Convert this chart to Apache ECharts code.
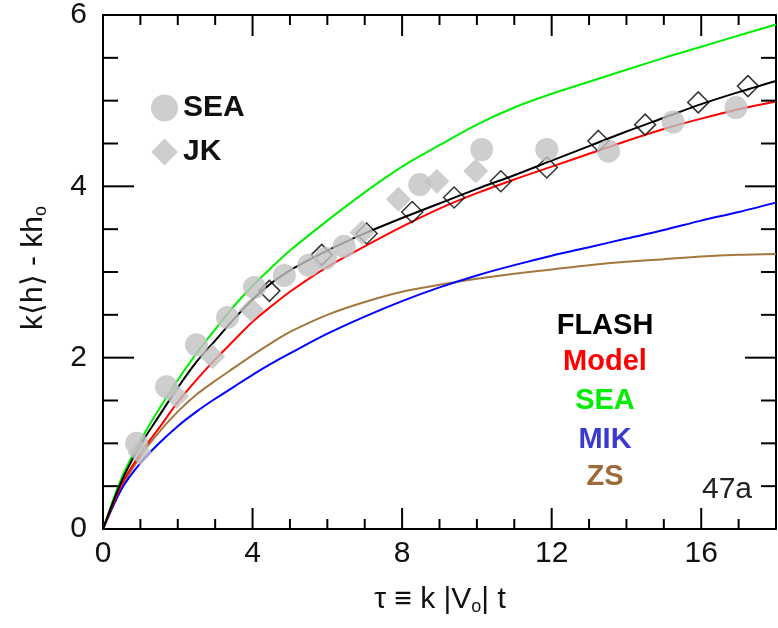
<!DOCTYPE html>
<html>
<head>
<meta charset="utf-8">
<script src="https://cdn.jsdelivr.net/npm/echarts@6/dist/echarts.min.js"></script>
<style>
html,body{margin:0;padding:0;background:#fff;}
#chart{width:778px;height:628px;}
</style>
</head>
<body>
<div id="chart"></div>
<script>
// ---- data ----
const CURVE_X = [0, 0.5, 1, 1.5, 2, 2.5, 3, 3.5, 4, 4.5, 5, 6, 7, 8, 9, 10, 11, 12, 13, 14, 15, 16, 17, 18];
const FLASH_Y = [0, 0.56, 0.98, 1.32, 1.65, 1.95, 2.2, 2.45, 2.68, 2.87, 3.02, 3.25, 3.45, 3.63, 3.8, 3.97, 4.13, 4.3, 4.47, 4.64, 4.8, 4.96, 5.1, 5.23];
const MODEL_Y = [0, 0.52, 0.88, 1.18, 1.48, 1.74, 1.98, 2.2, 2.42, 2.6, 2.77, 3.06, 3.3, 3.53, 3.74, 3.92, 4.08, 4.23, 4.38, 4.53, 4.67, 4.79, 4.9, 4.99];
const SEA_Y   = [0, 0.6, 1.03, 1.4, 1.74, 2.05, 2.33, 2.6, 2.84, 3.05, 3.25, 3.6, 3.93, 4.23, 4.48, 4.72, 4.92, 5.08, 5.22, 5.36, 5.5, 5.63, 5.76, 5.89];
const MIK_Y   = [0, 0.47, 0.77, 1.0, 1.2, 1.37, 1.52, 1.66, 1.8, 1.93, 2.05, 2.28, 2.48, 2.66, 2.82, 2.96, 3.08, 3.19, 3.29, 3.39, 3.49, 3.6, 3.7, 3.81];
const ZS_Y    = [0, 0.48, 0.85, 1.13, 1.37, 1.57, 1.73, 1.88, 2.03, 2.17, 2.3, 2.5, 2.65, 2.77, 2.85, 2.92, 2.98, 3.03, 3.08, 3.12, 3.15, 3.18, 3.2, 3.21];

const FLASH_MK_X = [4.45, 5.85, 7.05, 8.27, 9.39, 10.64, 11.87, 13.25, 14.5, 15.92, 17.25];
const FLASH_MK_Y = [2.78, 3.2, 3.45, 3.70, 3.87, 4.06, 4.22, 4.53, 4.72, 4.98, 5.17];

const SEA_PTS_X = [0.9, 1.7, 2.5, 3.33, 4.05, 4.85, 5.5, 5.95, 6.45, 8.47, 10.13, 11.87, 13.52, 15.25, 16.93];
const SEA_PTS_Y = [1.0, 1.66, 2.15, 2.47, 2.82, 2.96, 3.08, 3.16, 3.3, 4.02, 4.43, 4.43, 4.41, 4.75, 4.92];

const JK_X = [0.99, 1.97, 2.93, 3.97, 6.93, 7.9, 8.93, 9.97];
const JK_Y = [0.89, 1.55, 2.01, 2.56, 3.46, 3.85, 4.06, 4.18];

// axis ranges and tick values
const X_MIN = 0, X_MAX = 18, X_MAJOR = 4;
const Y_MIN = 0, Y_MAX = 6, Y_MAJOR = 2;
const X_TICKS = [1, 2, 3, 4, 5, 6, 7, 8, 9, 10, 11, 12, 13, 14, 15, 16, 17];
const Y_TICKS = [0.5, 1, 1.5, 2, 2.5, 3, 3.5, 4, 4.5, 5, 5.5];

const CURVE_NAMES = ['FLASH', 'Model', 'SEA', 'MIK', 'ZS'];
const CURVE_COLORS = ['#000000', '#ff0000', '#00ee00', '#0000ff', '#a5773f'];
const TEXT_COLORS = ['#000000', '#ff0000', '#00ee00', '#3a3ad0', '#9c6a3a'];
const LEGEND_Y = [326, 362, 401, 440, 477];
const X_TITLE = '{a|τ ≡ k |V}{s|o}{a|| t}';
const Y_TITLE = '{a|k⟨h⟩ - kh}{s|o}';

const zip = (xs, ys) => xs.map((x, i) => [x, ys[i]]);
const isMul = (v, m) => Math.abs(v / m - Math.round(v / m)) < 1e-9;

const FONT = "'Liberation Sans', Arial, Helvetica, sans-serif";
const chart = echarts.init(document.getElementById('chart'));

function lineSt() { return {color: '#000', width: 2}; }

function xAx(pos, showLabels) {
  return {
    type: 'value', min: X_MIN, max: X_MAX, interval: X_MAJOR, position: pos,
    axisLine: {show: true, onZero: false, lineStyle: lineSt()},
    axisTick: {show: false},
    axisLabel: {show: showLabels, fontSize: 30, color: '#111', fontFamily: FONT, margin: 10, showMaxLabel: false},
    splitLine: {show: false}
  };
}
function yAx(pos, showLabels) {
  return {
    type: 'value', min: Y_MIN, max: Y_MAX, interval: Y_MAJOR, position: pos,
    axisLine: {show: true, onZero: false, lineStyle: lineSt()},
    axisTick: {show: false},
    axisLabel: {show: showLabels, fontSize: 30, color: '#111', fontFamily: FONT, margin: 16},
    splitLine: {show: false}
  };
}

const curveYs = [FLASH_Y, MODEL_Y, SEA_Y, MIK_Y, ZS_Y];
const lineSeries = curveYs.map((ys, i) => ({
  name: CURVE_NAMES[i] + ' curve',
  type: 'line',
  data: zip(CURVE_X, ys),
  smooth: 0.3,
  symbol: 'none',
  lineStyle: {color: CURVE_COLORS[i], width: 2},
  z: i === 0 ? 4 : 3
})).reverse();

// inward ticks drawn through the axes' scales (api.coord)
const xTickSeries = {
  name: 'x ticks', type: 'custom', clip: false, silent: true, z: 8,
  data: X_TICKS.map(v => [v, Y_MIN, isMul(v, X_MAJOR) ? 21 : 10]),
  renderItem: function (params, api) {
    const v = api.value(0), len = api.value(2);
    const b = api.coord([v, Y_MIN]);
    const t = api.coord([v, Y_MAX]);
    return {type: 'group', children: [
      {type: 'rect', shape: {x: b[0] - 1, y: b[1] - len, width: 2, height: len}, style: {fill: '#000'}},
      {type: 'rect', shape: {x: t[0] - 1, y: t[1], width: 2, height: len}, style: {fill: '#000'}}
    ]};
  }
};
const yTickSeries = {
  name: 'y ticks', type: 'custom', clip: false, silent: true, z: 8,
  data: Y_TICKS.map(v => [X_MIN, v, isMul(v, Y_MAJOR) ? 31 : 15]),
  renderItem: function (params, api) {
    const v = api.value(1), len = api.value(2);
    const l = api.coord([X_MIN, v]);
    const r = api.coord([X_MAX, v]);
    return {type: 'group', children: [
      {type: 'rect', shape: {x: l[0], y: l[1] - 1, width: len, height: 2}, style: {fill: '#000'}},
      {type: 'rect', shape: {x: r[0] - len, y: r[1] - 1, width: len, height: 2}, style: {fill: '#000'}}
    ]};
  }
};

const series = lineSeries.concat([
  {
    name: 'FLASH markers', type: 'scatter', data: zip(FLASH_MK_X, FLASH_MK_Y),
    symbol: 'diamond', symbolSize: 21,
    itemStyle: {color: 'rgba(255,255,255,0)', borderColor: '#000', borderWidth: 1.5},
    z: 5
  },
  {
    name: 'JK', type: 'scatter', data: zip(JK_X, JK_Y),
    symbol: 'diamond', symbolSize: 25,
    itemStyle: {color: '#c2c2c2'}, z: 6
  },
  {
    name: 'SEA', type: 'scatter', data: zip(SEA_PTS_X, SEA_PTS_Y),
    symbol: 'circle', symbolSize: 23,
    itemStyle: {color: '#c2c2c2'}, z: 6
  },
  xTickSeries,
  yTickSeries
]);

const titleRich = {
  a: {fontSize: 30, fontFamily: FONT, fill: '#111', color: '#111'},
  s: {fontSize: 18, fontFamily: FONT, fill: '#111', color: '#111', padding: [14, 0, 0, 0]}
};

const graphics = CURVE_NAMES.map((n, i) => ({
  type: 'text', x: 605, y: LEGEND_Y[i],
  style: {
    text: n, fill: TEXT_COLORS[i],
    font: "bold 29px " + FONT,
    textAlign: 'center', textVerticalAlign: 'middle'
  }
})).concat([
  {
    type: 'text', x: 752, y: 490,
    style: {text: '47a', fill: '#222', font: "30px " + FONT, textAlign: 'right', textVerticalAlign: 'middle'}
  },
  {
    type: 'text', x: 440, y: 600,
    style: {text: X_TITLE, rich: titleRich, textAlign: 'center', textVerticalAlign: 'middle'}
  },
  {
    type: 'text', x: 34, y: 268, rotation: Math.PI / 2,
    style: {text: Y_TITLE, rich: titleRich, textAlign: 'center', textVerticalAlign: 'middle'}
  }
]);

const option = {
  animation: false,
  grid: {left: 103, right: 2, top: 15, bottom: 99},
  xAxis: [xAx('bottom', true), xAx('top', false)],
  yAxis: [yAx('left', true), yAx('right', false)],
  legend: {
    data: [{name: 'SEA', icon: 'circle'}, {name: 'JK', icon: 'diamond'}],
    orient: 'vertical', left: 146, top: 88,
    itemWidth: 27, itemHeight: 27, itemGap: 14,
    selectedMode: false,
    textStyle: {fontSize: 30, fontWeight: 'bold', color: '#111', fontFamily: FONT}
  },
  graphic: graphics,
  series: series
};
chart.setOption(option);
</script>
</body>
</html>
